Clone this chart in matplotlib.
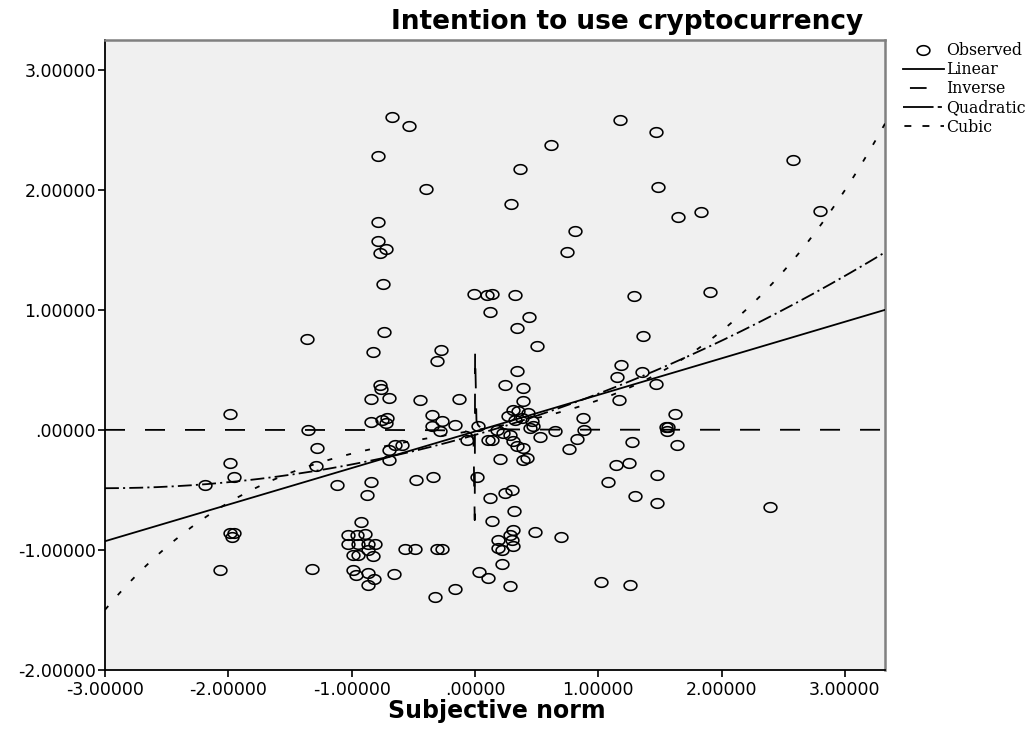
import numpy as np
import matplotlib
matplotlib.use('Agg')
import matplotlib.pyplot as plt
from matplotlib.path import Path
from matplotlib.lines import Line2D

plt.rcParams['lines.scale_dashes'] = False

# ---------------- data ----------------
obs_x = [
    -0.675, -0.783, -0.535, -0.399, -0.783, -0.783, -0.770, -0.720, -0.748, -0.735,
    -1.364, -0.824, 1.177, 1.469, 0.615, 0.366, 1.482, 0.290, 1.650, 0.812,
    0.749, -0.005, 0.100, 0.136, 0.325, 0.122, 0.441, 0.339, 0.500, -0.278,
    -0.305, 1.290, 1.366, 2.583, 2.798, 1.831, 1.906,
    0.344, 0.244, 0.393, 0.393, 1.182, 1.149, 1.352, 1.469, 1.171,
    1.623, 1.550, 1.570, 1.560, 1.642, 1.480, 1.480, 2.393,
    -0.770, -0.762, -0.843, -0.700, -0.445, -0.129, -1.987, -0.843, -0.756, -0.716,
    -0.724, -0.350, -0.345, -0.270, -0.161, -0.284, 0.028, -1.351, -0.648, -0.594,
    -0.700, -0.700, -1.283, -1.987, -1.289, -1.954, -2.189, -1.116, -0.845, -0.873,
    -0.062, 0.109, 0.311, 0.352, 0.433, 0.271, 0.460, 0.325, 0.379, 0.474,
    0.176, 0.231, 0.285, 0.447, 0.649, 0.528, 0.136, 0.311, 0.339, 0.393,
    0.420, 0.393, 0.203, 0.760, 0.874, 0.884, 0.830, 1.271, 1.144, 1.252,
    1.082, 1.298,
    -0.478, -0.337, 0.015, 0.122, 0.244, 0.298, 0.317, 0.136, 0.487, 0.696,
    0.311, 0.285, 0.298, 0.190, 0.217, 0.311, 0.190, 0.217, 0.035, 0.109,
    0.285, -0.161, -0.324, 1.020, 1.258, -0.567, -0.486, -0.310, -0.270, -0.654,
    -1.990, -1.950, -1.970, -2.067, -1.319,
    -0.924, -1.032, -0.959, -0.891, -1.027, -0.946, -0.865, -0.810, -0.986, -0.946,
    -0.824, -0.865, -0.986, -0.966, -0.865, -0.816, -0.865,
]
obs_y = [
    2.615, 2.290, 2.537, 2.012, 1.740, 1.579, 1.480, 1.510, 1.221, 0.820,
    0.762, 0.650, 2.587, 2.485, 2.379, 2.176, 2.027, 1.890, 1.777, 1.657,
    1.482, 1.137, 1.130, 1.137, 1.130, 0.985, 0.948, 0.851, 0.698, 0.671,
    0.573, 1.121, 0.788, 2.254, 1.832, 1.818, 1.149,
    0.496, 0.379, 0.351, 0.240, 0.546, 0.443, 0.482, 0.385, 0.254,
    0.138, 0.030, 0.030, -0.010, -0.127, -0.370, -0.607, -0.640,
    0.379, 0.343, 0.263, 0.268, 0.254, 0.260, 0.138, 0.065, 0.082, 0.100,
    0.060, 0.129, 0.038, 0.073, 0.046, -0.004, 0.038, 0.004, -0.120, -0.120,
    -0.163, -0.246, -0.148, -0.273, -0.300, -0.390, -0.460, -0.454, -0.432, -0.538,
    -0.085, -0.079, 0.171, 0.157, 0.143, 0.115, 0.073, 0.088, 0.100, 0.032,
    0.004, -0.023, -0.038, 0.018, -0.010, -0.057, -0.079, -0.093, -0.135, -0.148,
    -0.232, -0.246, -0.238, -0.160, 0.100, 0.004, -0.073, -0.100, -0.288, -0.273,
    -0.432, -0.546,
    -0.413, -0.393, -0.390, -0.565, -0.523, -0.496, -0.676, -0.760, -0.850, -0.890,
    -0.830, -0.870, -0.912, -0.912, -0.996, -0.968, -0.980, -1.120, -1.185, -1.230,
    -1.300, -1.323, -1.390, -1.265, -1.293, -0.990, -0.990, -0.990, -0.990, -1.196,
    -0.855, -0.855, -0.890, -1.163, -1.154,
    -0.765, -0.877, -0.871, -0.865, -0.948, -0.950, -0.950, -0.950, -1.043, -1.043,
    -1.050, -0.996, -1.163, -1.204, -1.190, -1.238, -1.288,
]

linear_coef = [-0.011, 0.305]                  # b0, b1
inverse_coef = [0.003, 0.001]                  # b0, b1  (y = b0 + b1/x)
inverse_jump = [-0.75, 0.66]                   # curve values at grid points next to x = 0
quadratic_coef = [-0.040, 0.295, 0.049]        # b0, b1, b2
cubic_coef = [-0.001, 0.178, 0.028, 0.045]     # b0, b1, b2, b3

x_range = [-3.0, 3.326]
y_range = [-2.0, 3.254]
xticks = [-3, -2, -1, 0, 1, 2, 3]
xtick_labels = ['-3.00000', '-2.00000', '-1.00000', '.00000', '1.00000', '2.00000', '3.00000']
yticks = [-2, -1, 0, 1, 2, 3]
ytick_labels = ['-2.00000', '-1.00000', '.00000', '1.00000', '2.00000', '3.00000']
legend_labels = ['Observed', 'Linear', 'Inverse', 'Quadratic', 'Cubic']
title_text = 'Intention to use cryptocurrency'
xlabel_text = 'Subjective norm'

# ---------------- figure ----------------
W, H = 1034, 740
fig = plt.figure(figsize=(W / 100, H / 100), dpi=100)
fig.patch.set_facecolor('white')
ax = fig.add_axes([105 / W, 1 - 670 / H, 780 / W, 630 / H])
ax.set_facecolor('#F0F0F0')

# elliptical open-circle marker (image is horizontally stretched)
t = np.linspace(0, 2 * np.pi, 60)
ell = Path(np.column_stack([1.33 * np.cos(t), np.sin(t)]), closed=True)

lw = 1.3
msize = 9.2
ax.plot(obs_x, obs_y, ls='none', marker=ell, markersize=msize,
        markerfacecolor='none', markeredgecolor='black', markeredgewidth=1.15,
        zorder=3)

xs = np.linspace(x_range[0], x_range[1], 500)
ax.plot(xs, np.polyval(linear_coef[::-1], xs), color='black', lw=lw, ls='-', zorder=4)

x_neg = inverse_coef[1] / (inverse_jump[0] - inverse_coef[0])
x_pos = inverse_coef[1] / (inverse_jump[1] - inverse_coef[0])
xs_inv = np.concatenate([np.linspace(x_range[0], x_neg, 300),
                         np.linspace(x_pos, x_range[1], 300)])
ys_inv = inverse_coef[0] + inverse_coef[1] / xs_inv
ax.plot(xs_inv, ys_inv, color='black', lw=lw, ls=(0, (14.4, 14.4)), zorder=4)

ax.plot(xs, np.polyval(quadratic_coef[::-1], xs), color='black', lw=lw,
        ls=(0, (10, 3, 1.5, 3)), zorder=4)
ax.plot(xs, np.polyval(cubic_coef[::-1], xs), color='black', lw=lw,
        ls=(0, (3.6, 10.4)), zorder=4)

ax.set_xlim(*x_range)
ax.set_ylim(*y_range)
ax.set_xticks(xticks)
ax.set_xticklabels(xtick_labels)
ax.set_yticks(yticks)
ax.set_yticklabels(ytick_labels)
ax.tick_params(axis='both', direction='out', length=5, width=1.2, color='black',
               labelsize=12.5, labelcolor='black')
ax.tick_params(axis='x', pad=3)
ax.tick_params(axis='y', pad=1.5)
for s in ['left', 'bottom']:
    ax.spines[s].set_color('black')
    ax.spines[s].set_linewidth(1.3)
for s in ['top', 'right']:
    ax.spines[s].set_color('#808080')
    ax.spines[s].set_linewidth(1.8)

fig.text(627 / W, 1 - 29 / H, title_text, ha='center', va='baseline',
         fontsize=19, fontweight='bold', family='DejaVu Sans')
fig.text(497 / W, 1 - 718 / H, xlabel_text, ha='center', va='baseline',
         fontsize=17, fontweight='bold', family='DejaVu Sans')

# legend proxies
handles = [
    Line2D([], [], ls='none', marker=ell, markersize=msize, markerfacecolor='none',
           markeredgecolor='black', markeredgewidth=1.15),
    Line2D([], [], color='black', lw=lw, ls='-'),
    Line2D([], [], color='black', lw=lw, ls=(-5, (12, 40))),
    Line2D([], [], color='black', lw=lw, ls=(0, (22, 3, 3, 3))),
    Line2D([], [], color='black', lw=lw, ls=(-1, (5, 8))),
]
leg = fig.legend(handles, legend_labels, loc='upper left',
                 bbox_to_anchor=(903 / W, 1 - 42 / H), frameon=False,
                 prop={'family': 'DejaVu Serif', 'size': 11.3},
                 handlelength=2.6, handletextpad=0.15, labelspacing=0.14,
                 borderpad=0, borderaxespad=0)

fig.savefig('out.png', dpi=100, facecolor='white')
